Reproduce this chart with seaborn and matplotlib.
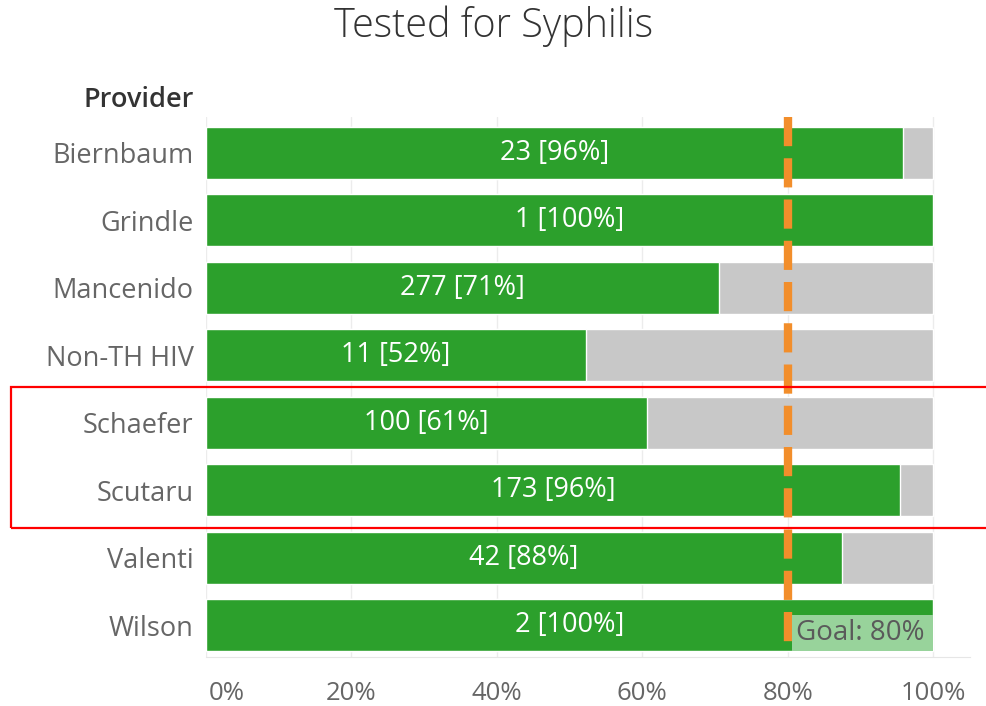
import matplotlib
matplotlib.use("Agg")
import matplotlib.pyplot as plt
import matplotlib.patches as mpatches
import matplotlib.transforms as mtransforms
import seaborn as sns
import pandas as pd

providers = ["Biernbaum", "Grindle", "Mancenido", "Non-TH HIV", "Schaefer", "Scutaru", "Valenti", "Wilson"]
tested = [23, 1, 277, 11, 100, 173, 42, 2]
pct_tested = [95.8, 100, 70.6, 52.2, 60.6, 95.5, 87.5, 100]
goal = 80
ticks = [0, 20, 40, 60, 80, 100]

df = pd.DataFrame({"Provider": providers, "n": tested, "pct": pct_tested})
df["total"] = 100

sns.set_style("white")
plt.rcParams["font.family"] = ["Open Sans", "DejaVu Sans"]

fig = plt.figure(figsize=(9.87, 7.06), dpi=100)
ax = fig.add_axes([0.2087, 0.0694, 0.983 - 0.2087, 0.834 - 0.0694])

sns.barplot(data=df, y="Provider", x="total", color="#c8c8c8", saturation=1, width=0.77, ax=ax, zorder=2)
sns.barplot(data=df, y="Provider", x="pct", color="#2ca02c", saturation=1, width=0.77, ax=ax, zorder=3)

for i, row in df.iterrows():
    ax.text(row["pct"] / 2, i, f"{row['n']} [{row['pct']:.0f}%]", color="white",
            ha="center", va="center", fontsize=19.5, zorder=5)

# goal line, dashes starting from the top
ax.plot([goal, goal], [-0.53, 7.4], color="#f28e2b", lw=6, dashes=(3.5, 1.45), zorder=4)

# goal label box in the lower half of the last bar
ax.add_patch(mpatches.Rectangle((goal + 0.6, 6.85), 100 - goal - 0.6, 0.535, fc="#98d39b", ec="none", zorder=6))
ax.text(goal + 1.2, 7.12, "Goal: 80%", color="#5a5a5a", fontsize=20, ha="left", va="center", zorder=7)

ax.set_xlim(0, 105.1)
ax.set_ylim(7.47, -0.53)
ax.set_xticks(ticks)
ax.set_xticklabels([f"{t}%" for t in ticks], fontsize=18.5, color="#666666")
ax.tick_params(axis="x", length=8, color="#e6e6e6", width=1, pad=9.5)
ax.tick_params(axis="y", length=0, labelsize=19.5, labelcolor="#666666", pad=9)
# first tick label sits inside the axis, like the original
first = ax.get_xticklabels()[0]
first.set_horizontalalignment("left")
first.set_transform(first.get_transform() + mtransforms.ScaledTranslation(3 / 100, 0, fig.dpi_scale_trans))
ax.grid(axis="x", color="#ececec", lw=1, zorder=0)
ax.set_axisbelow(True)
for s in ["top", "right", "left"]:
    ax.spines[s].set_visible(False)
ax.spines["bottom"].set_color("#e6e6e6")
ax.set_xlabel("")
ax.set_ylabel("")

fig.text(0.196, 0.858, "Provider", fontsize=19.5, fontweight="semibold", color="#333333", ha="right", va="center")
fig.text(0.5, 0.963, "Tested for Syphilis", fontsize=28.5, fontweight="light", color="#333333", ha="center", va="center")

fig.patches.append(mpatches.Rectangle((11 / 987, 1 - 528 / 706), 1.0, 141 / 706, fill=False,
                                      ec="red", lw=1.6, transform=fig.transFigure, figure=fig))

fig.savefig("out.png", dpi=100)
